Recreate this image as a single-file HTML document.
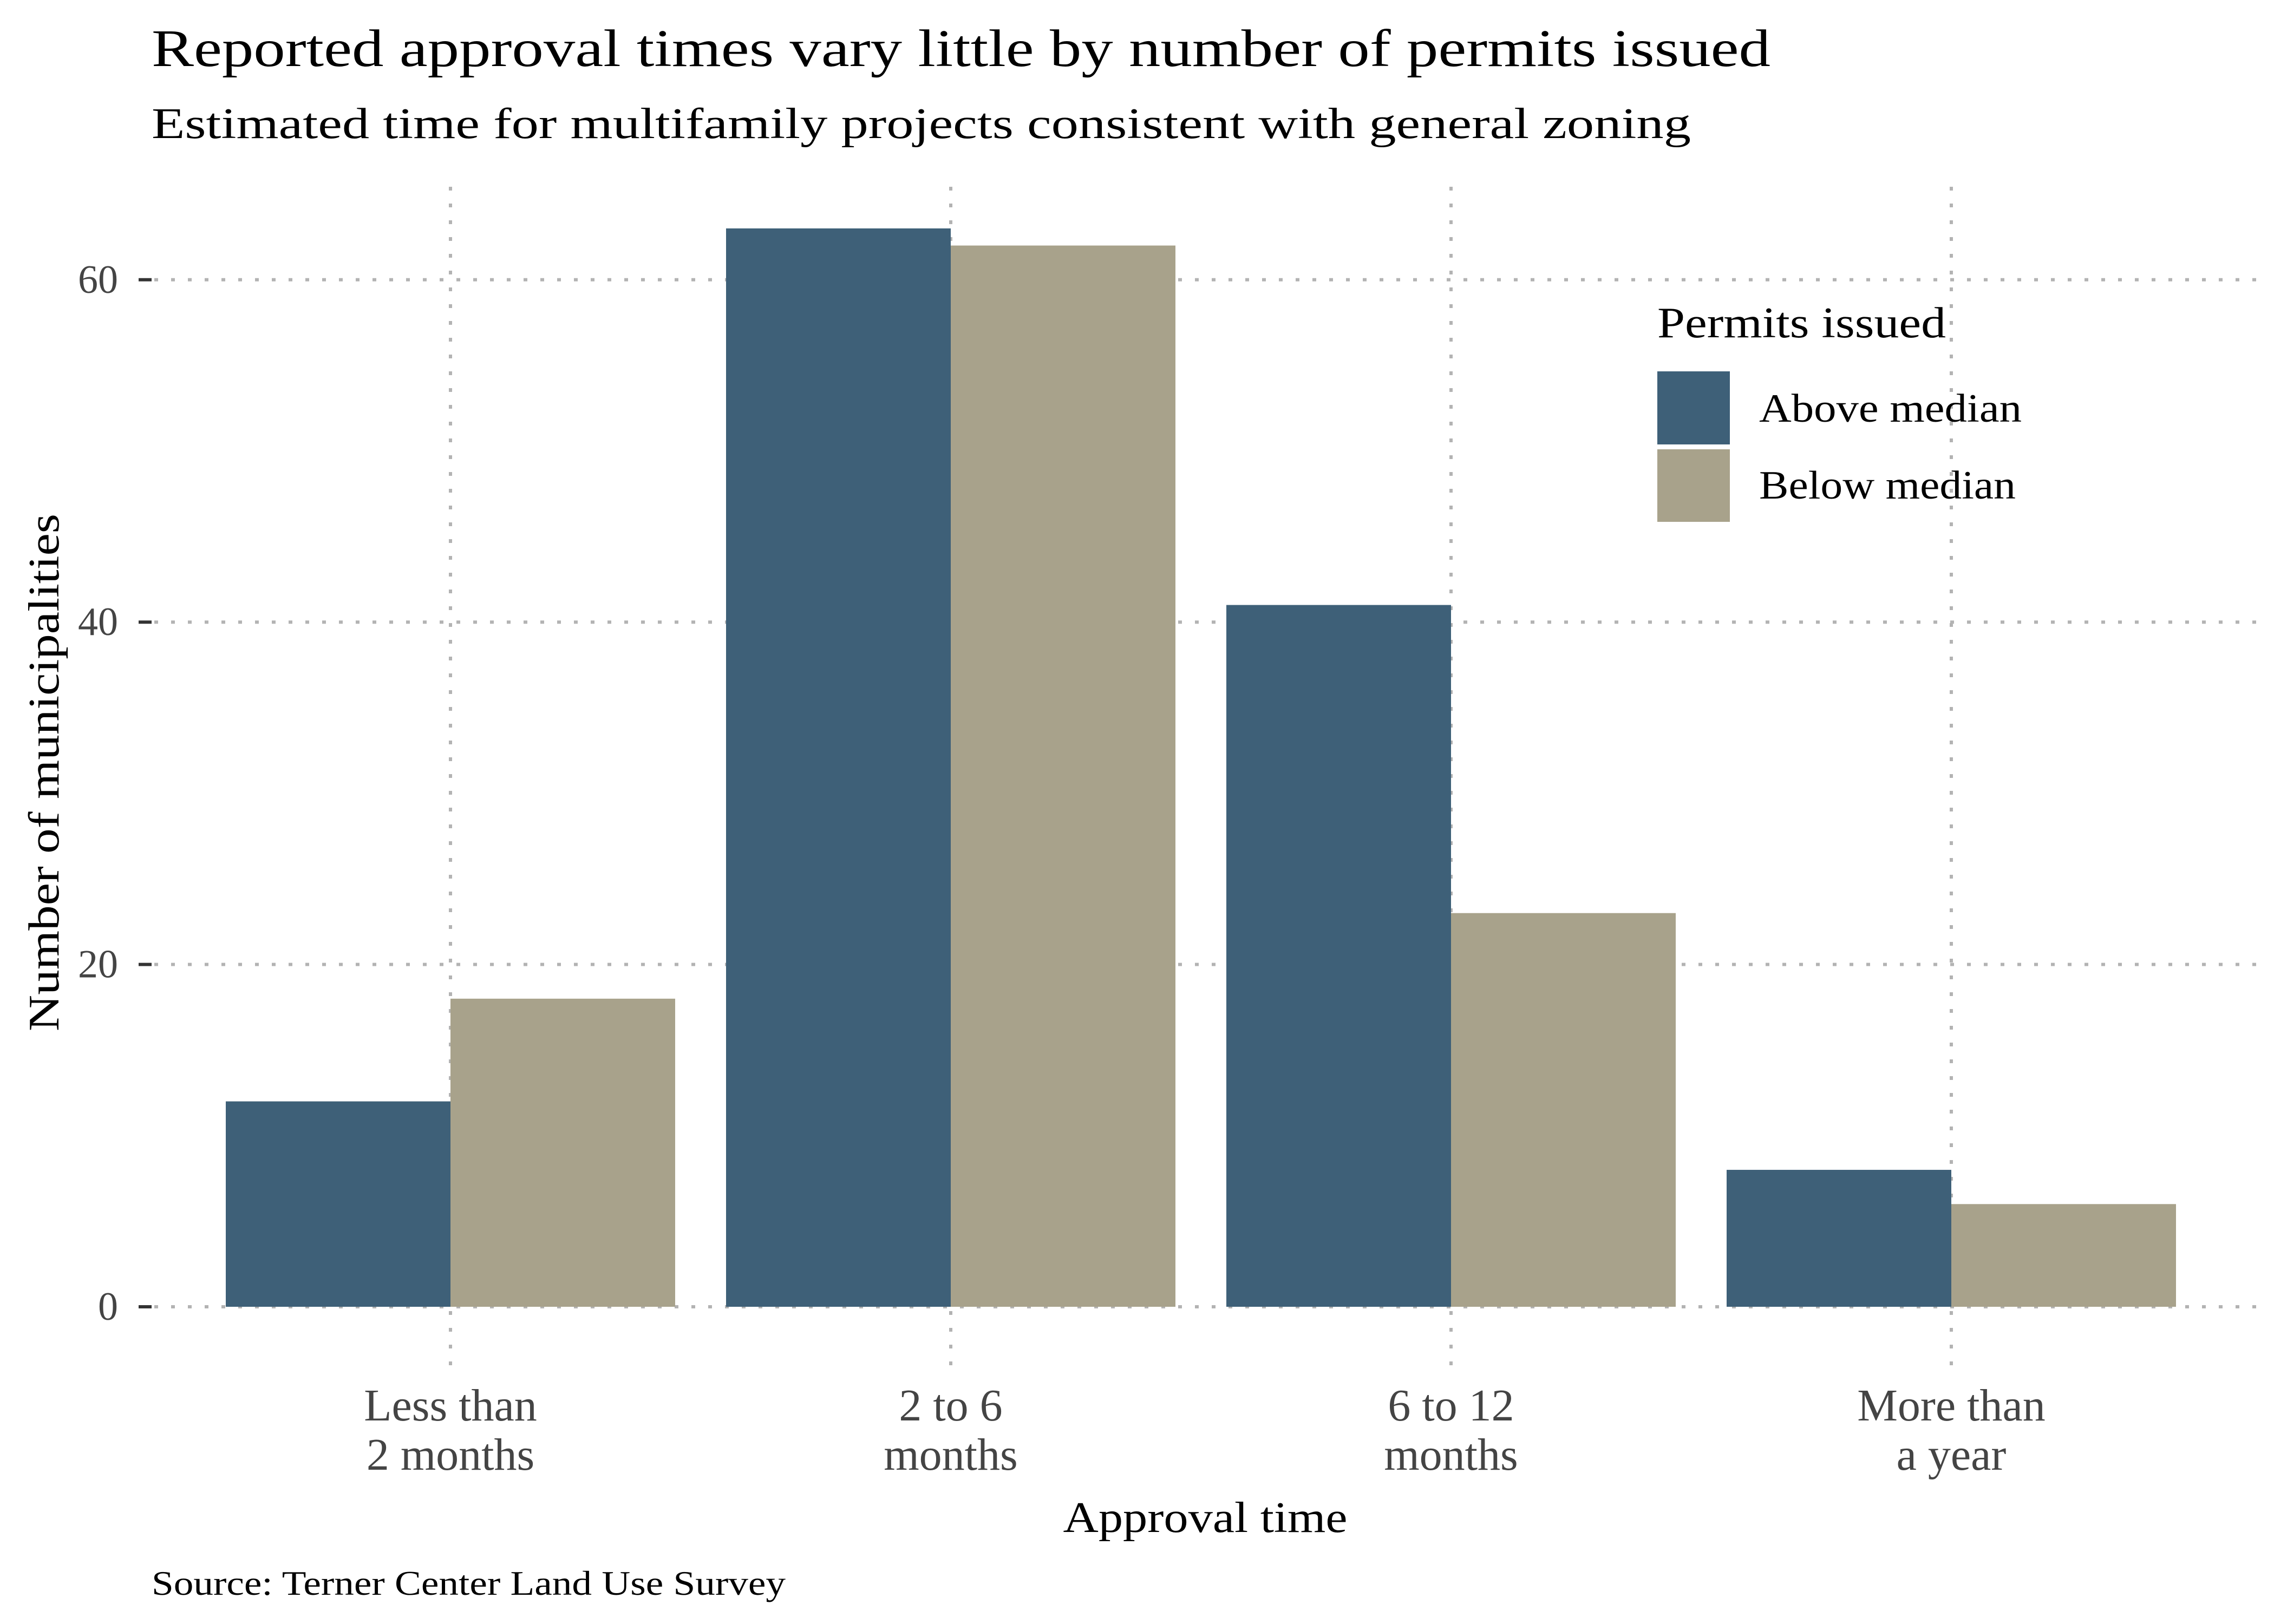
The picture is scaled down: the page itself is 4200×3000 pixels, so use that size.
<!DOCTYPE html>
<html><head><meta charset="utf-8"><style>
html,body{margin:0;padding:0;background:#fff}
svg{display:block}
text{font-family:"Liberation Serif",serif}
</style></head><body>
<svg id="chart" width="4200" height="3000" viewBox="0 0 4200 3000" xmlns="http://www.w3.org/2000/svg">
<text x="280" y="122" font-size="98" fill="#000" textLength="2990" lengthAdjust="spacingAndGlyphs">Reported approval times vary little by number of permits issued</text>
<text x="280" y="255" font-size="80" fill="#000" textLength="2843" lengthAdjust="spacingAndGlyphs">Estimated time for multifamily projects consistent with general zoning</text>
<g id="grid"></g>
<g id="bars"></g>
<g id="axes"></g>
<text transform="translate(108,1427) rotate(-90)" text-anchor="middle" font-size="80" fill="#000" textLength="956" lengthAdjust="spacingAndGlyphs">Number of municipalities</text>
<text x="2226" y="2830" text-anchor="middle" font-size="80" fill="#000" textLength="525" lengthAdjust="spacingAndGlyphs">Approval time</text>
<text x="280" y="2946" font-size="64" fill="#000" textLength="1171" lengthAdjust="spacingAndGlyphs">Source: Terner Center Land Use Survey</text>
<g>
<text x="3061" y="623" font-size="80" fill="#000" textLength="533" lengthAdjust="spacingAndGlyphs">Permits issued</text>
<rect x="3061" y="686" width="134" height="135" fill="#3e6078"/>
<text x="3249" y="779" font-size="74" fill="#000" textLength="485" lengthAdjust="spacingAndGlyphs">Above median</text>
<rect x="3061" y="830" width="134" height="134" fill="#a8a28b"/>
<text x="3249" y="921" font-size="74" fill="#000" textLength="474" lengthAdjust="spacingAndGlyphs">Below median</text>
</g>
</svg>
<script>
const categories = [["Less than","2 months"],["2 to 6","months"],["6 to 12","months"],["More than","a year"]];
const aboveMedian = [12, 63, 41, 8];
const belowMedian = [18, 62, 23, 6];
const yTicks = [0, 20, 40, 60];

const NS = "http://www.w3.org/2000/svg";
const y = v => 2414 - v * 31.62;
const x = i => 832 + i * 924;
const barW = 415;
function mk(tag, attrs, parent){const e=document.createElementNS(NS,tag);for(const k in attrs)e.setAttribute(k,attrs[k]);document.getElementById(parent).appendChild(e);return e;}

yTicks.forEach(t=>{
  const g = mk("line",{x1:285,x2:4175,y1:y(t),y2:y(t),stroke:"#b3b3b3","stroke-width":6,"stroke-dasharray":"7 24"},"grid");
  
  
  const tk = mk("line",{x1:256,x2:280,y1:y(t),y2:y(t),stroke:"#333","stroke-width":6},"axes");
  
  
  const lb = mk("text",{x:218,y:y(t)+24,"text-anchor":"end","font-size":74,fill:"#444"},"axes");
  lb.textContent = t;
  
  
});
categories.forEach((c,i)=>{
  const g = mk("line",{x1:x(i),x2:x(i),y1:345,y2:2530,stroke:"#b3b3b3","stroke-width":6,"stroke-dasharray":"7 24"},"grid");
  
  
  c.forEach((line,j)=>{
    const lb = mk("text",{x:x(i),y:2624+j*91,"text-anchor":"middle","font-size":84,fill:"#444"},"axes");
    lb.textContent = line;
    
    
  });
  const a = mk("rect",{x:x(i)-barW,y:y(aboveMedian[i]),width:barW,height:y(0)-y(aboveMedian[i]),fill:"#3e6078"},"bars");
  
  
  const b = mk("rect",{x:x(i),y:y(belowMedian[i]),width:barW,height:y(0)-y(belowMedian[i]),fill:"#a8a28b"},"bars");
  
  
});
</script>
</body></html>
